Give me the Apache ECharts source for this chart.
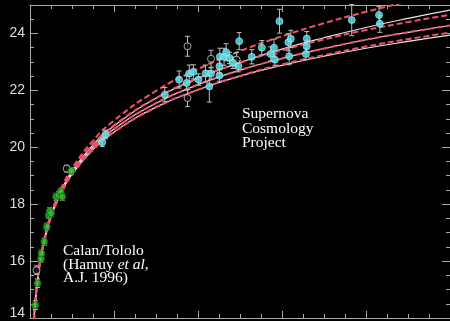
<!DOCTYPE html>
<html>
<head>
<meta charset="utf-8">
<script src="https://cdn.jsdelivr.net/npm/echarts@6/dist/echarts.min.js"></script>
<style>
  html, body { margin: 0; padding: 0; background: #000; }
  #chart { width: 450px; height: 321px; }
</style>
</head>
<body>
<div id="chart"></div>
<script>
// redshift grid the model curves are read at
const zGrid = [0.008, 0.01, 0.012, 0.015, 0.02, 0.03, 0.04, 0.05, 0.06, 0.08, 0.1, 0.15, 0.2, 0.3, 0.4, 0.5, 0.6, 0.7, 0.8, 0.9, 1.0];

// solid curves (OmegaM, OmegaL) = (0,0), (1,0), (2,0)
const solid00 = [13.57, 14.06, 14.46, 14.95, 15.58, 16.47, 17.10, 17.60, 18.01, 18.65, 19.16, 20.08, 20.75, 21.72, 22.42, 22.98, 23.45, 23.85, 24.21, 24.53, 24.82];
const solid10 = [13.57, 14.06, 14.45, 14.94, 15.57, 16.45, 17.08, 17.57, 17.97, 18.61, 19.10, 20.00, 20.64, 21.55, 22.20, 22.71, 23.12, 23.47, 23.78, 24.04, 24.28];
const solid20 = [13.57, 14.05, 14.45, 14.93, 15.56, 16.44, 17.06, 17.55, 17.94, 18.57, 19.05, 19.92, 20.54, 21.41, 22.02, 22.50, 22.88, 23.20, 23.48, 23.72, 23.94];

// dashed flat curves (0,1), (0.5,0.5), (1,0), (1.5,-0.5)
const flat01 = [13.58, 14.07, 14.47, 14.96, 15.60, 16.50, 17.15, 17.65, 18.07, 18.74, 19.26, 20.23, 20.94, 21.98, 22.75, 23.38, 23.90, 24.36, 24.76, 25.12, 25.45];
const flat55 = [13.58, 14.06, 14.46, 14.95, 15.58, 16.48, 17.11, 17.61, 18.02, 18.67, 19.18, 20.11, 20.77, 21.73, 22.43, 22.97, 23.41, 23.79, 24.12, 24.40, 24.66];
const flat10 = [13.57, 14.06, 14.45, 14.94, 15.57, 16.45, 17.08, 17.57, 17.97, 18.61, 19.10, 20.00, 20.64, 21.55, 22.20, 22.71, 23.12, 23.47, 23.78, 24.04, 24.28];
const flat1505 = [13.56, 14.05, 14.44, 14.93, 15.55, 16.43, 17.05, 17.53, 17.93, 18.54, 19.03, 19.91, 20.53, 21.40, 22.02, 22.51, 22.91, 23.24, 23.54, 23.80, 24.03];

// [z, magnitude, error]
const calanPoints = [
  [0.0125, 14.45, 0.15], [0.0180, 15.22, 0.15], [0.0262, 16.08, 0.12], [0.0273, 16.27, 0.12],
  [0.034, 16.68, 0.12], [0.040, 17.21, 0.12], [0.0445, 17.62, 0.12], [0.047, 17.76, 0.12],
  [0.050, 17.68, 0.12], [0.062, 18.26, 0.12], [0.068, 18.32, 0.12], [0.073, 18.44, 0.12],
  [0.077, 18.26, 0.12], [0.0985, 19.17, 0.12]
];
const scpPoints = [
  [0.172, 20.18, 0.15], [0.180, 20.45, 0.15],
  [0.321, 21.85, 0.25], [0.355, 22.38, 0.3], [0.373, 22.26, 0.25], [0.379, 22.59, 0.3],
  [0.389, 22.65, 0.25], [0.401, 22.38, 0.2], [0.418, 22.59, 0.3], [0.431, 22.59, 0.2],
  [0.427, 22.14, 0.55], [0.451, 22.52, 0.2], [0.451, 22.85, 0.25], [0.452, 23.18, 0.3],
  [0.462, 23.18, 0.3], [0.467, 23.34, 0.3], [0.475, 23.14, 0.2], [0.483, 22.97, 0.2],
  [0.498, 23.73, 0.3], [0.496, 22.85, 0.2], [0.528, 23.18, 0.25], [0.552, 23.50, 0.25],
  [0.573, 23.28, 0.25], [0.581, 23.50, 0.3], [0.583, 23.08, 0.2], [0.594, 24.43, 0.42],
  [0.615, 23.69, 0.3], [0.621, 23.81, 0.3], [0.617, 23.20, 0.3], [0.659, 23.82, 0.25],
  [0.659, 23.55, 0.2], [0.657, 23.28, 0.2], [0.766, 24.47, 0.55], [0.831, 24.65, 0.3],
  [0.833, 24.34, 0.3]
];
const excludedPoints = [
  [0.0155, 15.68, 0.15], [0.0874, 19.25, 0.12], [0.375, 23.55, 0.35],
  [0.431, 23.11, 0.3], [0.492, 23.08, 0.25], [0.375, 21.73, 0.3]
];

const yTicks = [14, 16, 18, 20, 22, 24];

const axisColor = '#a8a8a8';
const red = '#f0506a';

function curve(values, dashed) {
  return {
    type: 'line',
    data: zGrid.map((z, i) => [z, values[i]]),
    symbol: 'none',
    smooth: 0.5,
    silent: true,
    z: dashed ? 3 : 2,
    lineStyle: dashed
      ? { color: red, width: 2, type: [6, 3] }
      : { color: '#e6e6e6', width: 1.2 }
  };
}

function errorBars(params, api) {
  const x = api.value(0);
  const a = api.coord([x, api.value(1)]);
  const b = api.coord([x, api.value(2)]);
  const w = 2.5;
  const style = { stroke: '#bdbdbd', lineWidth: 1 };
  return {
    type: 'group',
    children: [
      { type: 'line', shape: { x1: a[0], y1: a[1], x2: b[0], y2: b[1] }, style },
      { type: 'line', shape: { x1: a[0] - w, y1: a[1], x2: a[0] + w, y2: a[1] }, style },
      { type: 'line', shape: { x1: b[0] - w, y1: b[1], x2: b[0] + w, y2: b[1] }, style }
    ]
  };
}

const errData = calanPoints.concat(scpPoints, excludedPoints).map((p) => [p[0], p[1] - p[2], p[1] + p[2]]);

function xAxisDef(position) {
  return {
    type: 'value', position, min: 0, max: 1, interval: 0.2,
    axisLine: { show: true, onZero: false, lineStyle: { color: axisColor, width: 1 } },
    axisTick: { show: true, inside: true, length: 7, lineStyle: { color: axisColor } },
    minorTick: { show: true, splitNumber: 4, length: 4, lineStyle: { color: axisColor } },
    axisLabel: { show: false },
    splitLine: { show: false }
  };
}

function yAxisDef(position, labels) {
  return {
    type: 'value', position, min: 14, max: 25, interval: 2,
    axisLine: { show: true, onZero: false, lineStyle: { color: axisColor, width: 1 } },
    axisTick: { show: true, inside: true, length: 8, lineStyle: { color: axisColor } },
    minorTick: { show: true, splitNumber: 4, length: 4, lineStyle: { color: axisColor } },
    axisLabel: {
      show: labels,
      color: '#dcdcdc',
      fontFamily: 'Liberation Sans',
      fontSize: 14,
      margin: 5,
      formatter: (v) => (yTicks.indexOf(v) < 0 ? '' : v === 14 ? '{low|14}' : String(v)),
      rich: { low: { padding: [0, 0, 9, 0], fontSize: 14, color: '#dcdcdc', fontFamily: 'Liberation Sans' } }
    },
    splitLine: { show: false }
  };
}

const chart = echarts.init(document.getElementById('chart'), null, { renderer: 'canvas' });
chart.setOption({
  animation: false,
  backgroundColor: '#000',
  grid: { left: 30, right: 0, top: 5, bottom: 3 },
  xAxis: [xAxisDef('bottom'), xAxisDef('top')],
  yAxis: [yAxisDef('left', true), yAxisDef('right', false)],
  graphic: [
    {
      type: 'text', left: 242, top: 106,
      style: {
        text: 'Supernova\nCosmology\nProject',
        fill: '#ffffff', fontFamily: 'Liberation Serif', fontSize: 15.5, lineHeight: 14.5
      }
    },
    {
      type: 'text', left: 63, top: 243,
      style: {
        text: 'Calan/Tololo\n(Hamuy {i|et al},\nA.J. 1996)',
        fill: '#ffffff', fontFamily: 'Liberation Serif', fontSize: 15.5, lineHeight: 13.7,
        rich: { i: { fontStyle: 'italic', fontFamily: 'Liberation Serif', fontSize: 15.5, lineHeight: 13.7, fill: '#ffffff' } }
      }
    }
  ],
  series: [
    curve(solid00, false),
    curve(solid10, false),
    curve(solid20, false),
    curve(flat01, true),
    curve(flat55, true),
    curve(flat10, true),
    curve(flat1505, true),
    {
      type: 'custom',
      renderItem: errorBars,
      data: errData,
      encode: { x: 0, y: [1, 2] },
      silent: true,
      z: 4
    },
    {
      type: 'scatter',
      data: excludedPoints.map((p) => [p[0], p[1]]),
      symbol: 'circle', symbolSize: 7,
      itemStyle: { color: '#000', borderColor: '#d0d0d0', borderWidth: 1 },
      z: 5
    },
    {
      type: 'scatter',
      data: calanPoints.map((p) => [p[0], p[1]]),
      symbol: 'circle', symbolSize: 7,
      itemStyle: { color: '#2cbf2c', borderColor: '#0f5f0f', borderWidth: 1 },
      z: 5
    },
    {
      type: 'scatter',
      data: scpPoints.map((p) => [p[0], p[1]]),
      symbol: 'circle', symbolSize: 7,
      itemStyle: { color: '#56e2ee', borderColor: '#a8f4f8', borderWidth: 0.8 },
      z: 5
    }
  ]
});
</script>
</body>
</html>
